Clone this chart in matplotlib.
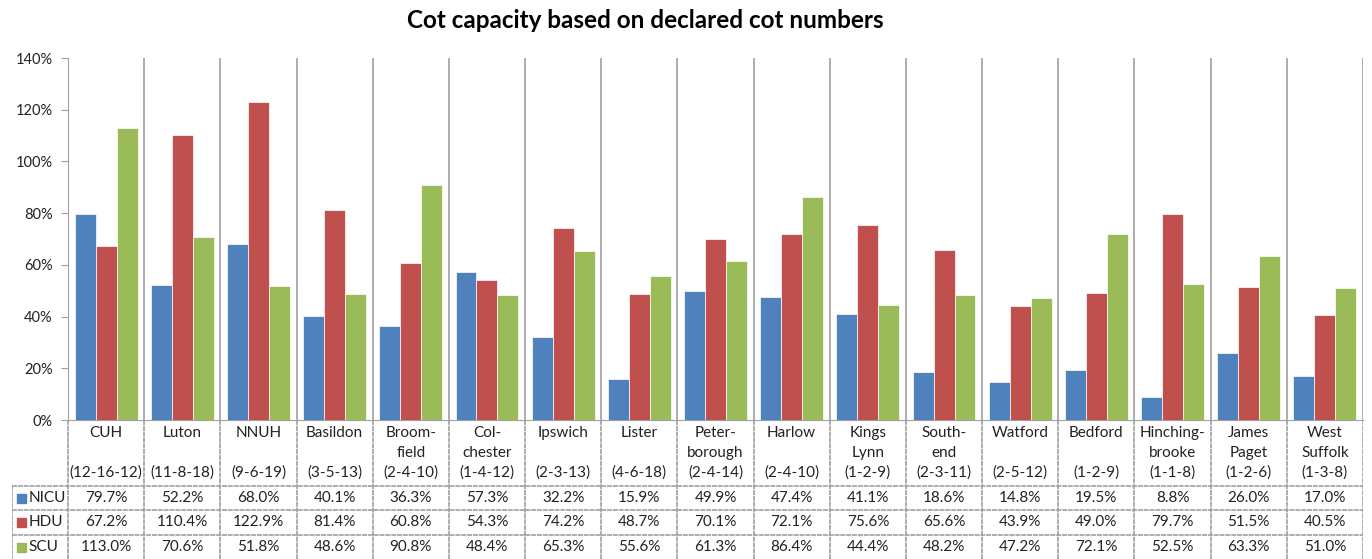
import matplotlib
matplotlib.use("Agg")
import matplotlib.pyplot as plt
import numpy as np

# data
units = ["CUH", "Luton", "NNUH", "Basildon", "Broom-\nfield", "Col-\nchester",
         "Ipswich", "Lister", "Peter-\nborough", "Harlow", "Kings\nLynn",
         "South-\nend", "Watford", "Bedford", "Hinching-\nbrooke", "James\nPaget",
         "West\nSuffolk"]
cots = ["(12-16-12)", "(11-8-18)", "(9-6-19)", "(3-5-13)", "(2-4-10)", "(1-4-12)",
        "(2-3-13)", "(4-6-18)", "(2-4-14)", "(2-4-10)", "(1-2-9)", "(2-3-11)",
        "(2-5-12)", "(1-2-9)", "(1-1-8)", "(1-2-6)", "(1-3-8)"]
nicu = [79.7, 52.2, 68.0, 40.1, 36.3, 57.3, 32.2, 15.9, 49.9, 47.4, 41.1, 18.6,
        14.8, 19.5, 8.8, 26.0, 17.0]
hdu = [67.2, 110.4, 122.9, 81.4, 60.8, 54.3, 74.2, 48.7, 70.1, 72.1, 75.6, 65.6,
       43.9, 49.0, 79.7, 51.5, 40.5]
scu = [113.0, 70.6, 51.8, 48.6, 90.8, 48.4, 65.3, 55.6, 61.3, 86.4, 44.4, 48.2,
       47.2, 72.1, 52.5, 63.3, 51.0]

series = [("NICU", nicu, "#4F81BD"), ("HDU", hdu, "#C0504D"), ("SCU", scu, "#9BBB59")]

plt.rcParams['font.family'] = ['Lato', 'DejaVu Sans']
W, H = 1372, 559
fig = plt.figure(figsize=(W / 100, H / 100), dpi=100)
grid = '#a0a0a0'
txt = '#222222'

# bar area in pixels
left, right, top, base = 68, 1363, 58, 420
ax = fig.add_axes([left / W, (H - base) / H, (right - left) / W, (base - top) / H])
n = len(units)
x = np.arange(n)
w = 0.275
for k, (name, vals, col) in enumerate(series):
    ax.bar(x + (k - 1) * w, np.array(vals) / 100, width=w, color=col,
           edgecolor='white', linewidth=0.5, zorder=3)
ax.set_xlim(-0.5, n - 0.5)
ax.set_ylim(0, 1.4)
ticks = np.arange(0, 1.41, 0.2)
ax.set_yticks(ticks)
ax.set_yticklabels([f"{int(round(v * 100))}%" for v in ticks], fontsize=10.5)
ax.set_xticks([])
for b in np.arange(0.5, n, 1.0):
    ax.axvline(b, color=grid, lw=1.2, zorder=1)
for s in ['top', 'right']:
    ax.spines[s].set_visible(False)
ax.spines['left'].set_color(grid)
ax.spines['bottom'].set_color(grid)
ax.tick_params(axis='y', colors=grid, labelcolor=txt, length=5, pad=6)

# table below the bars, same x scale
tl = 12
unit_px = (right - left) / n
tax = fig.add_axes([tl / W, 0, (right - tl) / W, (H - base) / H])
x0 = -0.5 - (left - tl) / unit_px
tax.set_xlim(x0, n - 0.5)
tax.set_ylim(H - base, 0)
tax.axis('off')
row_y = [66, 90, 115, H - base]
ls = (0, (3, 0.5))
for b in np.arange(-0.5, n, 1.0):
    tax.plot([b, b], [0, H - base], color=grid, lw=1.2, ls=ls)
for yy in row_y[:3]:
    tax.plot([x0, n - 0.5], [yy, yy], color=grid, lw=1.2, ls=ls)
tax.plot([x0, x0], [row_y[0], H - base], color=grid, lw=1.2, ls=ls)

fs = 11
for i in range(n):
    lines = units[i].split("\n")
    if len(lines) == 1:
        lines = lines + [""]
    tax.text(i, 13, lines[0], ha='center', va='center', fontsize=fs, color=txt)
    tax.text(i, 33, lines[1], ha='center', va='center', fontsize=fs, color=txt)
    tax.text(i, 53, cots[i], ha='center', va='center', fontsize=fs, color=txt)

for k, (name, vals, col) in enumerate(series):
    yc = (row_y[k] + row_y[k + 1]) / 2
    tax.add_patch(plt.Rectangle((x0 + 0.06, yc - 4.5), 0.12, 9, color=col))
    tax.text(x0 + 0.22, yc, name, ha='left', va='center', fontsize=fs, color=txt)
    for i, v in enumerate(vals):
        tax.text(i, yc, f"{v:.1f}%", ha='center', va='center', fontsize=fs, color=txt)

fig.text(645 / W, 1 - 21 / H, "Cot capacity based on declared cot numbers", ha='center',
         va='center', fontsize=17.5, fontweight='bold')
fig.savefig("out.png", dpi=100)
